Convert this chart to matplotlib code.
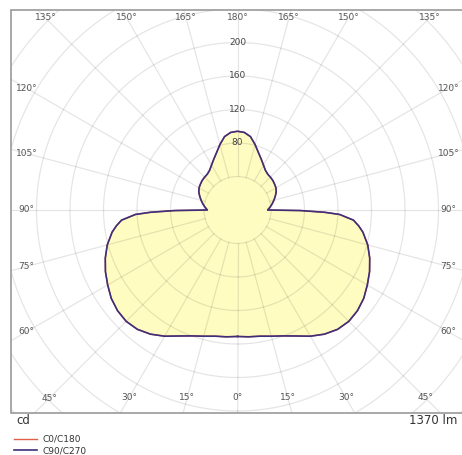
import numpy as np
import matplotlib
matplotlib.use('Agg')
import matplotlib.pyplot as plt
from matplotlib.patches import Rectangle

# ---- data (luminous intensity, cd) ----
gamma = [0, 5, 10, 15, 20, 25, 30, 35, 40, 45, 50, 55, 60, 65, 70, 75, 80, 82.5, 85, 87.5,
         88.5, 89.5, 90, 95, 100, 105, 110, 115, 120, 125, 130, 135, 140, 145, 150, 155,
         160, 165, 170, 175, 180]
c90_c270 = [151, 152, 153, 156, 160, 166, 174, 181, 186, 188, 187, 184, 179, 174, 168, 161,
            152, 146, 139, 122, 104, 75, 36, 39, 42, 45, 48, 51, 53, 54, 55, 55.5, 56, 58,
            62, 67, 73, 81, 89, 93, 94]
c0_c180 = list(c90_c270)
ring_values = [40, 80, 120, 160, 200, 240, 280, 320, 360]
ring_labels = [80, 120, 160, 200]
angle_labels = [0, 15, 30, 45, 60, 75, 90, 105, 120, 135, 150, 165, 180]
flux_text = "1370 lm"
unit_text = "cd"
series_names = ["C0/C180", "C90/C270"]

# ---- layout ----
W, H = 462, 455
CX, CY = 237.5, 210.0          # pole position, pixels from top-left
PX_PER_CD = 0.8375
R_PX = 320
RMAX = R_PX / PX_PER_CD
FRAME = (11, 10, 463, 413)     # left, top, right, bottom (px)

fig = plt.figure(figsize=(W / 100, H / 100), dpi=100)
ax = fig.add_axes([(CX - R_PX) / W, (H - CY - R_PX) / H, 2 * R_PX / W, 2 * R_PX / H],
                  projection='polar')
ax.set_theta_zero_location('S')
ax.set_theta_direction(1)
ax.set_rlim(0, RMAX)
ax.grid(False)
ax.set_xticks([])
ax.set_yticks([])
ax.spines['polar'].set_visible(False)
ax.patch.set_facecolor('white')

g = np.radians(np.array(gamma, dtype=float))
theta = np.concatenate([g, 2 * np.pi - g[::-1]])
r90 = np.concatenate([np.array(c90_c270), np.array(c90_c270)[::-1]])
r0 = np.concatenate([np.array(c0_c180), np.array(c0_c180)[::-1]])

ax.fill(theta, r90, color='#fffcc2', lw=0, zorder=1)

grid_kw = dict(color='black', alpha=0.1, lw=0.9, zorder=2)
tt = np.linspace(0, 2 * np.pi, 721)
for rv in ring_values:
    ax.plot(tt, np.full_like(tt, rv), **grid_kw)
for a in range(0, 360, 15):
    th = np.radians(a)
    ax.plot([th, th], [ring_values[0], RMAX], **grid_kw)

l0, = ax.plot(theta, r0, color='#e0604a', lw=1.0, zorder=3)
l90, = ax.plot(theta, r90, color='#3d2f7a', lw=1.2, zorder=3)

# ring labels
for rv in ring_labels:
    ax.text(np.pi, rv, str(rv), ha='center', va='center', fontsize=6.5,
            color='#444444', zorder=4)

# angle labels at the inner edge of the frame
IN_L, IN_R, IN_T, IN_B = 211, 211, 192, 188
for a in angle_labels:
    for side in (1, -1):
        if side == -1 and a in (0, 180):
            continue
        ar = np.radians(a)
        dx = np.sin(ar)
        dy = np.cos(ar)  # positive = downward
        cands = []
        if abs(dx) > 1e-9:
            cands.append((IN_R if side > 0 else IN_L) / abs(dx))
        if dy > 1e-9:
            cands.append(IN_B / dy)
        elif dy < -1e-9:
            cands.append(IN_T / -dy)
        t = min(cands)
        th = ar if side > 0 else 2 * np.pi - ar
        ax.text(th, t / PX_PER_CD, f"{a}°", ha='center', va='center', fontsize=6.5,
                color='#555555', zorder=4)

# masks outside frame
L, T, Rr, B = FRAME
for (x0, y0, x1, y1) in [(0, 0, L, H), (0, 0, W, T), (0, B, W, H)]:
    fig.add_artist(Rectangle((x0 / W, 1 - y1 / H), (x1 - x0) / W, (y1 - y0) / H,
                             transform=fig.transFigure, color='white', lw=0, zorder=3))
fig.add_artist(Rectangle((L / W, 1 - B / H), (Rr - L) / W, (B - T) / H,
                         transform=fig.transFigure, fill=False, edgecolor='#9a9a9a',
                         lw=1.2, zorder=4))

fig.text(16 / W, 1 - 421 / H, unit_text, ha='left', va='center', fontsize=8.5,
         color='#333333', zorder=7)
fig.text(457 / W, 1 - 421 / H, flux_text, ha='right', va='center', fontsize=8.5,
         color='#333333', zorder=7)

leg = fig.legend([l0, l90], series_names, loc='upper left',
                 bbox_to_anchor=(14 / W, 1 - 435 / H), frameon=False, fontsize=6.5,
                 handlelength=2.6, handletextpad=0.6, labelspacing=0.25,
                 borderpad=0, borderaxespad=0)
leg.set_zorder(8)
for t in leg.get_texts():
    t.set_color('#333333')

fig.savefig('out.png', dpi=100, facecolor='white')
